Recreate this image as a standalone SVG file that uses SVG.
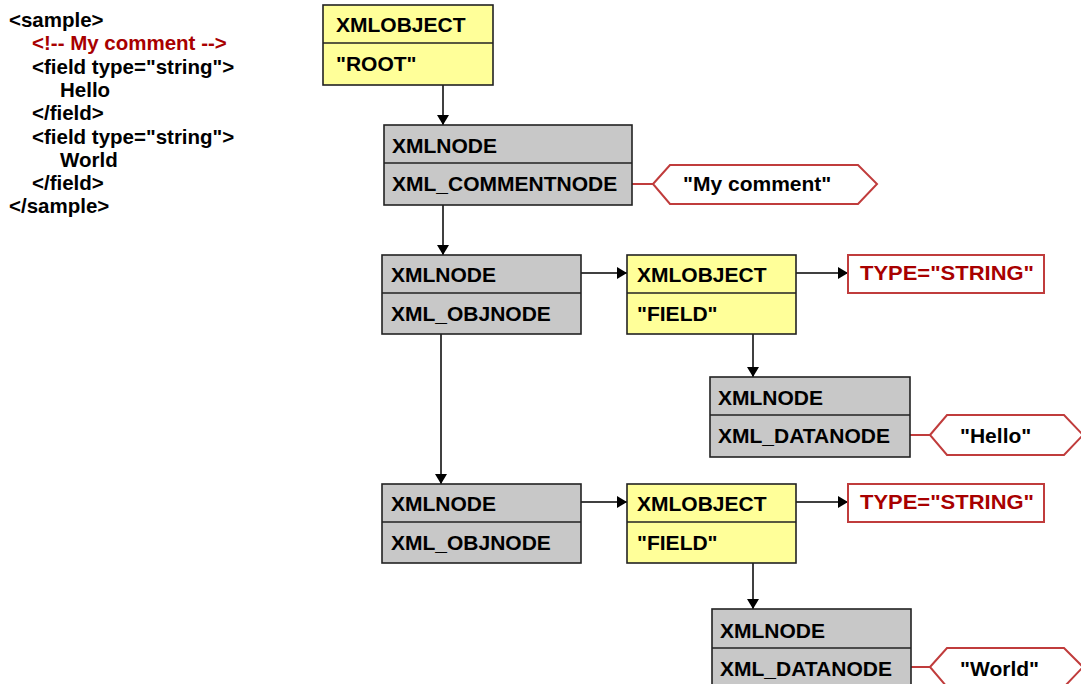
<svg xmlns="http://www.w3.org/2000/svg" width="1081" height="684" viewBox="0 0 1081 684">
<defs>
<style>
text{font-family:"Liberation Sans",Arial,sans-serif;font-weight:bold;font-size:21px;fill:#000}
.src{font-size:20.5px}
.cm{fill:#a80000}
.red{fill:#a80000}
.obj{fill:#ffff99;stroke:#222;stroke-width:1.6}
.nd{fill:#c8c8c8;stroke:#222;stroke-width:1.6}
.div{stroke:#222;stroke-width:1.6}
.val{fill:#fff;stroke:#c03c3c;stroke-width:2}
.conn{stroke:#000;stroke-width:1.5;fill:none}
.rconn{stroke:#c03c3c;stroke-width:2;fill:none}
</style>
<marker id="ah" markerWidth="10" markerHeight="12" refX="10" refY="6" orient="auto" markerUnits="userSpaceOnUse">
<path d="M0,0 L10,6 L0,12 Z" fill="#000"/>
</marker>
</defs>
<rect width="1081" height="684" fill="#fff"/>

<g id="source">
<text class="src" x="9" y="27">&lt;sample&gt;</text>
<text class="src cm" x="32" y="50">&lt;!-- My comment --&gt;</text>
<text class="src" x="32" y="74">&lt;field type="string"&gt;</text>
<text class="src" x="60" y="97">Hello</text>
<text class="src" x="32" y="120">&lt;/field&gt;</text>
<text class="src" x="32" y="144">&lt;field type="string"&gt;</text>
<text class="src" x="60" y="167">World</text>
<text class="src" x="32" y="190">&lt;/field&gt;</text>
<text class="src" x="9" y="213">&lt;/sample&gt;</text>
</g>

<g id="connectors">
<line class="conn" x1="443" y1="85" x2="443" y2="125" marker-end="url(#ah)"/>
<line class="conn" x1="443" y1="205" x2="443" y2="255" marker-end="url(#ah)"/>
<line class="conn" x1="441" y1="334" x2="441" y2="484" marker-end="url(#ah)"/>
<line class="conn" x1="581" y1="273" x2="627" y2="273" marker-end="url(#ah)"/>
<line class="conn" x1="796" y1="273" x2="848" y2="273" marker-end="url(#ah)"/>
<line class="conn" x1="753" y1="334" x2="753" y2="377" marker-end="url(#ah)"/>
<line class="conn" x1="581" y1="502" x2="627" y2="502" marker-end="url(#ah)"/>
<line class="conn" x1="796" y1="502" x2="848" y2="502" marker-end="url(#ah)"/>
<line class="conn" x1="753" y1="563" x2="753" y2="609" marker-end="url(#ah)"/>
<line class="rconn" x1="632" y1="184" x2="653" y2="184"/>
<line class="rconn" x1="910" y1="435" x2="930" y2="435"/>
<line class="rconn" x1="911" y1="667" x2="930" y2="667"/>
</g>

<g id="root">
<rect class="obj" x="323" y="5" width="170" height="80"/>
<line class="div" x1="323" y1="43" x2="493" y2="43"/>
<text x="336" y="32">XMLOBJECT</text>
<text x="336" y="71">"ROOT"</text>
</g>

<g id="commentnode">
<rect class="nd" x="384" y="125" width="248" height="80"/>
<line class="div" x1="384" y1="163" x2="632" y2="163"/>
<text x="392" y="153">XMLNODE</text>
<text x="392" y="191">XML_COMMENTNODE</text>
</g>

<g id="commentval">
<polygon class="val" points="653,184 670,165 858,165 877,184 858,204 670,204"/>
<text x="683" y="191">"My comment"</text>
</g>

<g id="objnode1">
<rect class="nd" x="382" y="255" width="199" height="79"/>
<line class="div" x1="382" y1="293" x2="581" y2="293"/>
<text x="391" y="282">XMLNODE</text>
<text x="391" y="321">XML_OBJNODE</text>
</g>

<g id="field1">
<rect class="obj" x="627" y="255" width="169" height="79"/>
<line class="div" x1="627" y1="293" x2="796" y2="293"/>
<text x="637" y="282">XMLOBJECT</text>
<text x="637" y="321">"FIELD"</text>
</g>

<g id="type1">
<rect class="val" x="848" y="255" width="196" height="38"/>
<text class="red" x="860" y="280" textLength="174" lengthAdjust="spacingAndGlyphs">TYPE="STRING"</text>
</g>

<g id="datanode1">
<rect class="nd" x="710" y="377" width="200" height="80"/>
<line class="div" x1="710" y1="415" x2="910" y2="415"/>
<text x="718" y="405">XMLNODE</text>
<text x="718" y="443">XML_DATANODE</text>
</g>

<g id="hello">
<polygon class="val" points="930,435 947,415 1064,415 1083,435 1064,455 947,455"/>
<text x="960" y="443">"Hello"</text>
</g>

<g id="objnode2">
<rect class="nd" x="382" y="484" width="199" height="79"/>
<line class="div" x1="382" y1="522" x2="581" y2="522"/>
<text x="391" y="511">XMLNODE</text>
<text x="391" y="550">XML_OBJNODE</text>
</g>

<g id="field2">
<rect class="obj" x="627" y="484" width="169" height="79"/>
<line class="div" x1="627" y1="522" x2="796" y2="522"/>
<text x="637" y="511">XMLOBJECT</text>
<text x="637" y="550">"FIELD"</text>
</g>

<g id="type2">
<rect class="val" x="848" y="484" width="196" height="38"/>
<text class="red" x="860" y="509" textLength="174" lengthAdjust="spacingAndGlyphs">TYPE="STRING"</text>
</g>

<g id="datanode2">
<rect class="nd" x="712" y="609" width="199" height="90"/>
<line class="div" x1="712" y1="648" x2="911" y2="648"/>
<text x="720" y="638">XMLNODE</text>
<text x="720" y="676">XML_DATANODE</text>
</g>

<g id="world">
<polygon class="val" points="930,667 947,648 1064,648 1083,667 1064,687 947,687"/>
<text x="960" y="676">"World"</text>
</g>
</svg>
